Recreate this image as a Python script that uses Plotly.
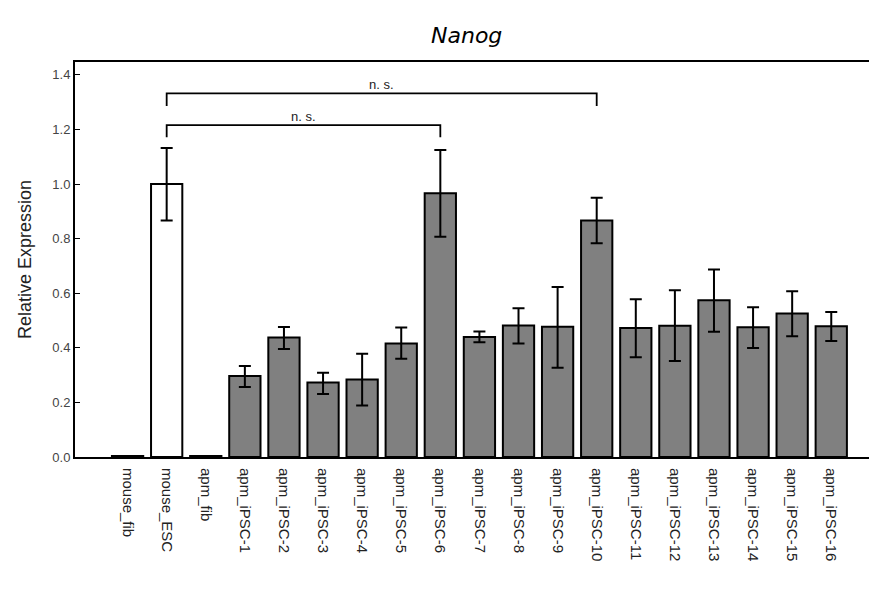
import plotly.graph_objects as go

categories = ["mouse_fib", "mouse_ESC", "apm_fib", "apm_iPSC-1", "apm_iPSC-2", "apm_iPSC-3",
              "apm_iPSC-4", "apm_iPSC-5", "apm_iPSC-6", "apm_iPSC-7", "apm_iPSC-8", "apm_iPSC-9",
              "apm_iPSC-10", "apm_iPSC-11", "apm_iPSC-12", "apm_iPSC-13", "apm_iPSC-14",
              "apm_iPSC-15", "apm_iPSC-16"]
values = [0.004, 1.0, 0.004, 0.297, 0.438, 0.273, 0.284, 0.416, 0.966, 0.440, 0.482, 0.477,
          0.866, 0.473, 0.481, 0.574, 0.475, 0.526, 0.479]
err_upper = [None, 1.132, None, 0.333, 0.476, 0.309, 0.378, 0.474, 1.125, 0.460, 0.545, 0.623,
             0.950, 0.578, 0.611, 0.687, 0.549, 0.607, 0.531]
err_lower = [None, 0.866, None, 0.256, 0.396, 0.231, 0.189, 0.360, 0.807, 0.420, 0.416, 0.327,
             0.783, 0.365, 0.352, 0.459, 0.399, 0.442, 0.425]
fill_colors = ["#ffffff", "#ffffff", "#ffffff"] + ["#808080"] * 16

# significance comparisons: (from, to, bracket height, tick bottom, label)
comparisons = [
    ("mouse_ESC", "apm_iPSC-10", 1.332, 1.286, "n. s."),
    ("mouse_ESC", "apm_iPSC-6", 1.216, 1.171, "n. s."),
]

x_idx = list(range(len(categories)))
plus = [0 if u is None else u - v for u, v in zip(err_upper, values)]
minus = [0 if l is None else v - l for l, v in zip(err_lower, values)]

fig = go.Figure()
fig.add_trace(go.Bar(
    x=x_idx, y=values, width=0.80,
    marker=dict(color=fill_colors, line=dict(color="black", width=2)),
    error_y=dict(type="data", symmetric=False, array=plus, arrayminus=minus,
                 color="black", thickness=2, width=6),
    showlegend=False,
))

shapes = []
annotations = []
for a, b, h, t, lab in comparisons:
    xa, xb = categories.index(a), categories.index(b)
    shapes.append(dict(type="path", xref="x", yref="y",
                       path=f"M {xa},{t} L {xa},{h} L {xb},{h} L {xb},{t}",
                       line=dict(color="black", width=1.8)))
    annotations.append(dict(x=(xa + xb) / 2, y=h, xref="x", yref="y", text=lab,
                            showarrow=False, yanchor="bottom", yshift=-1,
                            font=dict(family="Liberation Sans", size=13, color="#222")))

fig.update_layout(
    width=877, height=594,
    margin=dict(l=67, r=8, t=54, b=145),
    paper_bgcolor="white", plot_bgcolor="white",
    title=dict(text="<i>Nanog</i>", x=0.523, xanchor="center", y=0.9545, yanchor="middle",
               font=dict(family="DejaVu Sans", size=22, color="black")),
    shapes=shapes, annotations=annotations,
    xaxis=dict(range=[-1.345, 19.17], tickmode="array", tickvals=x_idx, ticktext=categories,
               tickangle=90, showline=True, linecolor="black", linewidth=2, mirror=True,
               ticks="", showgrid=False, zeroline=False, ticklabelstandoff=6,
               tickfont=dict(family="Liberation Sans", size=15, color="#222")),
    yaxis=dict(range=[0, 1.447], tickvals=[0, 0.2, 0.4, 0.6, 0.8, 1.0, 1.2, 1.4],
               tickformat=".1f", showline=True, linecolor="black", linewidth=2,
               ticks="inside", ticklen=5, tickcolor="black", showgrid=False, zeroline=False,
               tickfont=dict(family="Liberation Sans", size=13, color="#444"),
               title=dict(text="Relative Expression", standoff=16,
                          font=dict(family="Liberation Sans", size=18, color="#222"))),
)

fig.write_html("out.html")
